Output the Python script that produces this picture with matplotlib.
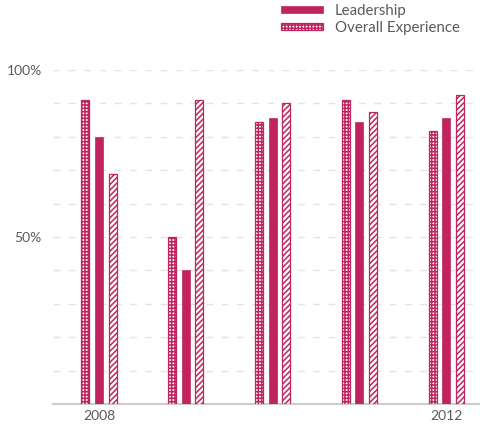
import numpy as np
import matplotlib
matplotlib.use("Agg")
import matplotlib.pyplot as plt

plt.rcParams['font.family'] = ['Lato', 'DejaVu Sans']
plt.rcParams['hatch.linewidth'] = 1.1

# data (percent)
years = ['2008', '2009', '2010', '2011', '2012']
overall = [91, 50, 84.3, 91, 81.8]
leadership = [80, 40, 85.5, 84.3, 85.5]
third = [69, 91, 90, 87.5, 92.5]
ytick_vals = [50, 100]
ytick_labels = ['50%', '100%']

pink = '#c0245f'
grey_txt = '#5a5a5a'

fig = plt.figure(figsize=(4.81, 4.25), dpi=100)
ax = fig.add_axes([53 / 481, 1 - 404 / 425, 1 - 53 / 481, 334 / 425])

x = np.arange(len(years))
w = 0.092
off = 0.156

ax.bar(x - off, overall, w, color='white', edgecolor=pink, hatch='+++++',
       linewidth=0.9, label='Overall Experience', zorder=3)
ax.bar(x, leadership, w, color=pink, edgecolor=pink, linewidth=0.5,
       label='Leadership', zorder=3)
ax.bar(x + off, third, w, color='white', edgecolor=pink, hatch='//////',
       linewidth=0.9, zorder=3)

ax.set_xlim(-0.53, 4.40)
ax.set_ylim(0, 100)

# dashed grid every 10%
for g in range(10, 101, 10):
    ax.axhline(g, color='#e4e4e4', linewidth=1, dashes=(5, 6), zorder=1)

for s in ['top', 'right', 'left']:
    ax.spines[s].set_visible(False)
ax.spines['bottom'].set_color('#cccccc')
ax.spines['bottom'].set_linewidth(1.5)

ax.set_yticks(ytick_vals)
ax.set_yticklabels(ytick_labels)
ax.set_xticks([0, 4])
ax.set_xticklabels([years[0], years[-1]])
ax.tick_params(axis='both', length=0, labelsize=10, colors=grey_txt)
ax.tick_params(axis='y', pad=8)
ax.tick_params(axis='x', pad=4)

handles, labels = ax.get_legend_handles_labels()
fig.legend([handles[1], handles[0]], [labels[1], labels[0]],
           loc='upper left', bbox_to_anchor=(272 / 481, 1.012),
           frameon=False, fontsize=10.8, labelcolor=grey_txt,
           handlelength=2.8, handleheight=0.42, handletextpad=0.8,
           labelspacing=0.2, borderpad=0.1)

fig.savefig('out.png', dpi=100)
